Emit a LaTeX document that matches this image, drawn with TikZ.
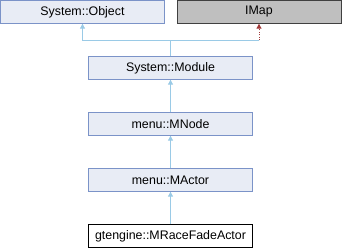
\documentclass[tikz,border=0pt]{standalone}
\usepackage{fontspec}
\setmainfont{Liberation Sans}
\usetikzlibrary{arrows.meta}

\definecolor{clsfill}{HTML}{E8ECF5}
\definecolor{clsdraw}{HTML}{7B93C8}
\definecolor{extfill}{HTML}{BFBFBF}
\definecolor{extdraw}{HTML}{404040}
\definecolor{inhline}{HTML}{9ACAE6}
\definecolor{usedline}{HTML}{A23A3A}

\tikzstyle{classbox}=[draw=clsdraw, fill=clsfill, minimum width=164pt, minimum height=23pt, inner sep=0pt, font=\fontsize{12.4}{14}\selectfont]
\tikzstyle{extbox}=[classbox, draw=extdraw, fill=extfill]
\tikzstyle{curbox}=[classbox, draw=black, fill=white]
\tikzstyle{inh}=[-{Triangle[width=5pt,length=5pt]}, inhline, line width=1pt]
\tikzstyle{impl}=[-{Triangle[width=5pt,length=5pt]}, usedline, line width=1pt, dash pattern=on 1pt off 1.5pt]

\begin{document}
\begin{tikzpicture}[x=1pt, y=-1pt]
      \useasboundingbox (0,0) rectangle (342,248);
      \node[classbox] (object) at (82.5, 12) {System::Object};
      \node[extbox] (imap) at (259, 12) {IMap};
      \foreach \name/\txt [count=\i] in {module/System::Module, mnode/menu::MNode, mactor/menu::MActor} {%
        \node[classbox] (\name) at (170.5, 12 + 56*\i) {\txt};
      }
      \node[curbox] (fade) at (170.5, 236) {gtengine::MRaceFadeActor};
      \coordinate (split) at (170.5, 40.5);
      \coordinate (bend) at (imap.south |- split);
      \draw[inh] (module.north) -- (split) -| (object.south);
      \draw[inhline, line width=1pt] (split) -- (bend);
      \draw[impl] (bend) -- (imap.south);
      \draw[inh] (mnode) to (module);
      \draw[inh] (mactor) to (mnode);
      \draw[inh] (fade) to (mactor);
    \end{tikzpicture}
\end{document}
